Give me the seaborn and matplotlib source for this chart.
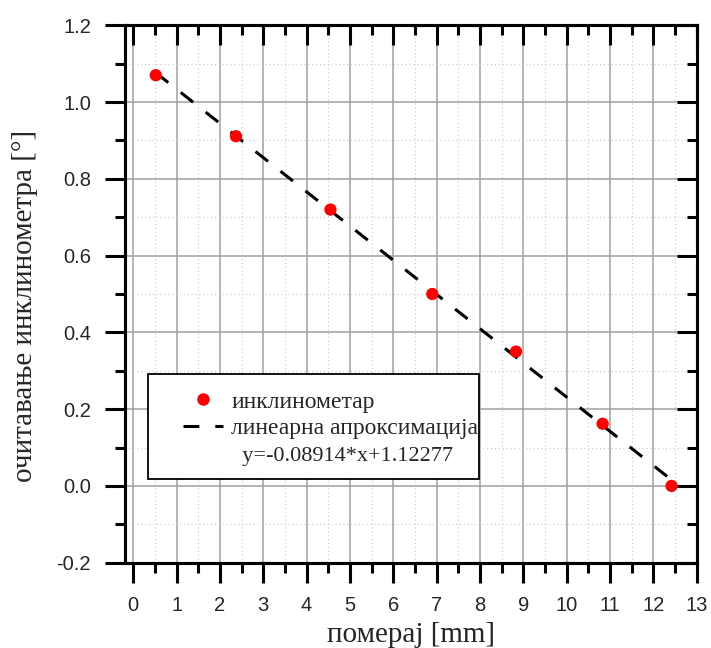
import matplotlib
matplotlib.use("Agg")
import matplotlib.pyplot as plt
from matplotlib.ticker import MultipleLocator
from matplotlib.lines import Line2D
from matplotlib.patches import Rectangle
import seaborn as sns
import numpy as np
import pandas as pd

# data
displacement = [0.52, 2.37, 4.55, 6.90, 8.83, 10.83, 12.42]
inclinometer = [1.070, 0.911, 0.720, 0.500, 0.350, 0.162, 0.000]
fit_slope = -0.08914
fit_intercept = 1.12277
x_label = "померај [mm]"
y_label = "очитавање инклинометра [°]"
legend_points = "инклинометар"
legend_fit = "линеарна апроксимација"
legend_equation = "y=-0.08914*x+1.12277"
x_ticks = list(range(0, 14))
y_ticks = [-0.2, 0.0, 0.2, 0.4, 0.6, 0.8, 1.0, 1.2]

sns.set_style("white")
serif = ["Liberation Serif", "DejaVu Serif"]
sans = ["Liberation Sans", "DejaVu Sans"]

df = pd.DataFrame({"x": displacement, "y": inclinometer})
fit_x = [min(displacement), max(displacement)]
fit_df = pd.DataFrame({"x": fit_x, "y": [fit_slope * v + fit_intercept for v in fit_x]})

rect = [125 / 711, 1 - 562.7 / 648, 571.7 / 711, 537.4 / 648]
xlim = (-0.19, 13.0)
ylim = (-0.2, 1.2)

fig = plt.figure(figsize=(7.11, 6.48), dpi=100)
ax = fig.add_axes(rect)

ax.set_xlim(*xlim)
ax.set_ylim(*ylim)
ax.xaxis.set_major_locator(MultipleLocator(1))
ax.xaxis.set_minor_locator(MultipleLocator(0.5))
ax.yaxis.set_major_locator(MultipleLocator(0.2))
ax.yaxis.set_minor_locator(MultipleLocator(0.1))

ax.grid(which="major", color="#a0a0a0", linewidth=1.1, linestyle="-", zorder=0)
ax.grid(which="minor", color="#c8c8c8", linewidth=0.8, linestyle=(0, (1, 2.5)), zorder=0)
ax.set_axisbelow(True)

sns.lineplot(data=fit_df, x="x", y="y", ax=ax, color="black", linewidth=2.2,
             dashes=False, zorder=3)
ax.lines[-1].set_dashes((5.2, 5.2))
sns.scatterplot(data=df, x="x", y="y", ax=ax, color="#ff0000", s=78,
                edgecolor="none", zorder=4)

for s in ax.spines.values():
    s.set_linewidth(2.2)
    s.set_color("black")
    s.set_visible(True)

ax.tick_params(which="major", direction="out", length=14.4, width=2.2,
               color="black", labelsize=14.5)
ax.tick_params(which="minor", direction="out", length=7.2, width=2.2, color="black")
ax.tick_params(axis="x", which="both", top=False, bottom=True)
ax.tick_params(axis="x", which="major", pad=9.5)
ax.tick_params(axis="y", which="both", left=True, right=False)
ax.tick_params(axis="y", which="major", pad=10)
ax.set_xticks(x_ticks)
ax.set_yticks(y_ticks)
ax.set_yticklabels([f"{v:.1f}" for v in y_ticks])
for lab in ax.get_xticklabels() + ax.get_yticklabels():
    lab.set_family(sans)

ax.set_xlabel(x_label, family=serif, fontsize=21, labelpad=5)
ax.set_ylabel(y_label, family=serif, fontsize=21)
ax.yaxis.set_label_coords(-0.152, 0.478)

# overlay axes for the inward ticks on top and right
ov = fig.add_axes(rect, facecolor="none", zorder=10)
ov.set_xlim(*xlim)
ov.set_ylim(*ylim)
ov.set_xticks(x_ticks)
ov.set_yticks(y_ticks)
ov.xaxis.set_minor_locator(MultipleLocator(0.5))
ov.yaxis.set_minor_locator(MultipleLocator(0.1))
ov.tick_params(which="both", direction="in", color="black", width=2.2,
               bottom=False, left=False, top=True, right=True,
               labelbottom=False, labelleft=False, labeltop=False, labelright=False)
ov.tick_params(which="major", length=14.4)
ov.tick_params(which="minor", length=7.2)
ov.grid(False)
for s in ov.spines.values():
    s.set_linewidth(2.2)
    s.set_color("black")

# legend frame
ax.add_patch(Rectangle((23 / 571.7, (562.7 - 479) / 537.4), 331 / 571.7, 105 / 537.4,
                       transform=ax.transAxes, facecolor="white", edgecolor="black",
                       linewidth=1.3, zorder=5))
handles = [
    Line2D([], [], linestyle="none", marker="o", markersize=9, color="#ff0000",
           markeredgecolor="none"),
    Line2D([], [], linestyle=(0, (5.2, 5.2)), linewidth=2.2, color="black"),
    Line2D([], [], linestyle="none"),
]
leg = ax.legend(handles, [legend_points, legend_fit, "  " + legend_equation],
                loc="upper left", bbox_to_anchor=((183 - 125) / 571.7, (562.7 - 391) / 537.4),
                frameon=False, borderpad=0, borderaxespad=0, handlelength=1.7,
                handletextpad=0.35, labelspacing=0.22,
                prop={"family": serif, "size": 17})
leg.get_texts()[2].set_fontsize(16)
leg.set_zorder(6)

fig.savefig("out.png", dpi=100)
